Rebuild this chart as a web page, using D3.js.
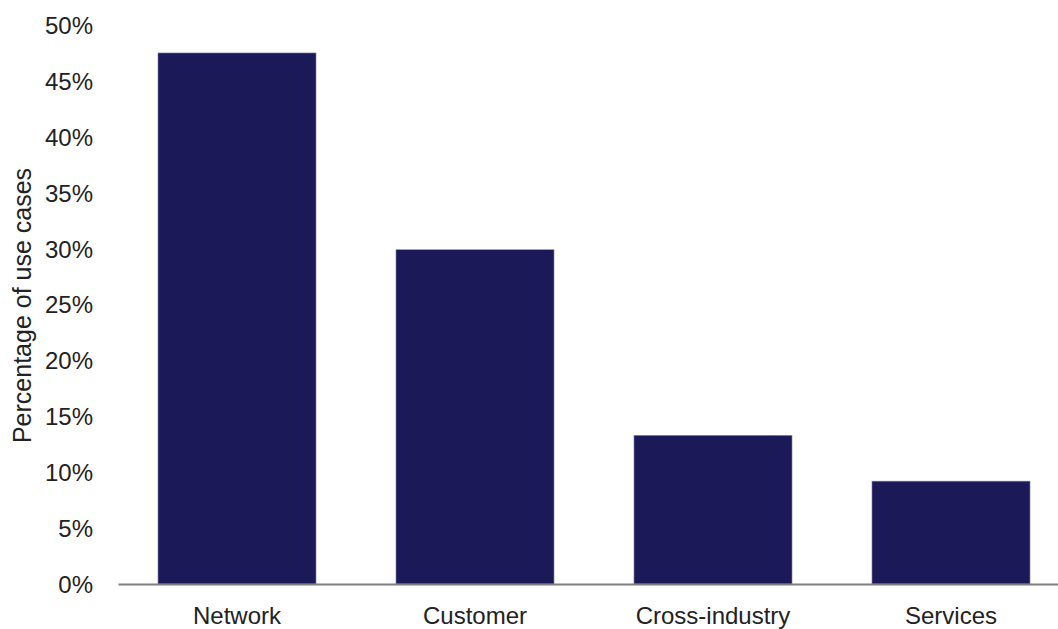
<!DOCTYPE html>
<html><head><meta charset="utf-8">
<script src="https://cdn.jsdelivr.net/npm/d3@7"></script>
<style>body{margin:0;background:#fff}svg{display:block}</style>
</head><body>
<script>
const categories = ["Network", "Customer", "Cross-industry", "Services"];
const values = [47.5, 29.9, 13.3, 9.2];
const yTicks = [0, 5, 10, 15, 20, 25, 30, 35, 40, 45, 50];
const yTitle = "Percentage of use cases";

const W = 1058, H = 629;
const font = "'Liberation Sans', Arial, sans-serif";
const svg = d3.select("body").append("svg").attr("width", W).attr("height", H);

const x = d3.scaleBand().domain(categories).range([118, 1070]).paddingInner(0.336).paddingOuter(0.168);
const y = d3.scaleLinear().domain([0, 50]).range([584, 25]);

svg.selectAll("rect.bar").data(values).join("rect")
  .attr("class", "bar")
  .attr("x", (d, i) => x(categories[i]))
  .attr("width", x.bandwidth())
  .attr("y", d => y(d))
  .attr("height", d => y(0) - y(d))
  .attr("fill", "#1b1958")
  .attr("stroke", "#8a89b0").attr("stroke-width", 0.6);

// y axis labels (no line)
const yAxis = d3.axisLeft(y).tickValues(yTicks).tickFormat(d => d + "%").tickSize(0).tickPadding(0);
const gy = svg.append("g").attr("transform", "translate(93,0)").call(yAxis);
gy.select(".domain").remove();
gy.selectAll("text").attr("font-family", font).attr("font-size", 24).attr("fill", "#222").attr("dy", "0.35em");

// x axis
const xAxis = d3.axisBottom(x).tickSize(0).tickPadding(23);
const gx = svg.append("g").attr("transform", "translate(0,584)").call(xAxis);
gx.select(".domain").attr("stroke", "#7f7f7f").attr("stroke-width", 2);
gx.selectAll("text").attr("font-family", font).attr("font-size", 24).attr("fill", "#222");

svg.append("text")
  .attr("transform", "translate(31,305.5) rotate(-90)")
  .attr("text-anchor", "middle")
  .attr("font-family", font).attr("font-size", 25).attr("fill", "#222")
  .text(yTitle);
</script>
</body></html>
